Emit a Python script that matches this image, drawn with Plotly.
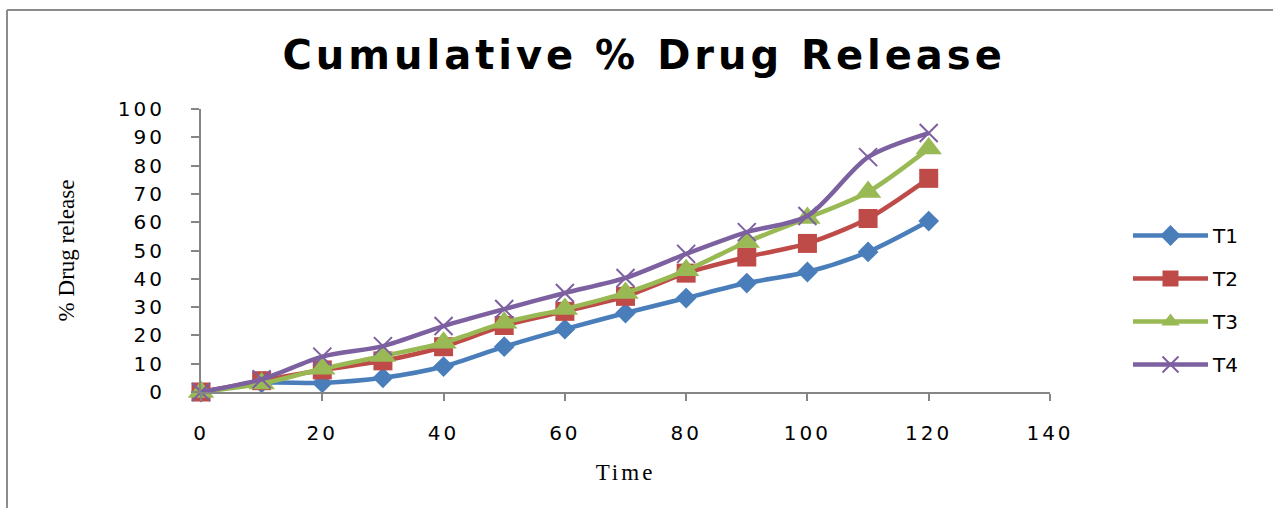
import plotly.graph_objects as go

time = [0, 10, 20, 30, 40, 50, 60, 70, 80, 90, 100, 110, 120]
T1 = [0, 3.2, 3.2, 5, 9, 16, 22.2, 27.9, 33.2, 38.5, 42.4, 49.5, 60.4]
T2 = [0, 4.0, 7.8, 11, 16, 23.5, 28.5, 33.8, 42, 47.7, 52.5, 61.3, 75.5]
T3 = [0, 3.0, 8.2, 12.7, 17.4, 24.5, 29.3, 35, 43, 53, 61.5, 70.7, 86]
T4 = [0, 4.5, 12.5, 16.2, 23.3, 29.3, 35, 40.3, 48.8, 56.5, 62.2, 83, 91.5]
series_names = ["T1", "T2", "T3", "T4"]
x_ticks = [0, 20, 40, 60, 80, 100, 120, 140]
y_ticks = [0, 10, 20, 30, 40, 50, 60, 70, 80, 90, 100]


def spaced(s, px):
    return f'<span style="letter-spacing:{px}px">{s}</span>'


W, H = 1273, 508
L, R, T, B = 201, 223, 109, 116
pw, ph = W - L - R, H - T - B

styles = [
    dict(color="#4A7EBB", symbol="diamond", size=16, lw=0),
    dict(color="#BE4B48", symbol="square", size=19, lw=0),
    dict(color="#98B954", symbol="triangle-up", size=23, lw=0),
    dict(color="#7D60A0", symbol="x-thin", size=18, lw=2),
]

fig = go.Figure()
for name, ys, st in zip(series_names, [T1, T2, T3, T4], styles):
    fig.add_trace(go.Scatter(
        x=time, y=ys, name=name, mode="lines+markers",
        line=dict(color=st["color"], width=4.5, shape="spline", smoothing=0.8),
        marker=dict(symbol=st["symbol"], size=st["size"], color=st["color"],
                    line=dict(color=st["color"], width=st["lw"])),
        legendgroup=name,
        cliponaxis=False,
    ))

axis_col = "#868686"
fig.update_layout(
    width=W, height=H,
    margin=dict(l=L, r=R, t=T, b=B, autoexpand=False),
    paper_bgcolor="white", plot_bgcolor="white",
    title=dict(text=spaced("Cumulative % Drug Release", 4), x=0.506, xanchor="center",
               y=1 - 55 / H, yanchor="middle",
               font=dict(family="DejaVu Sans", size=40, color="black", weight="bold")),
    xaxis=dict(range=[0, 140], tickvals=x_ticks,
               ticktext=[spaced(v, 3) for v in x_ticks],
               showgrid=False, zeroline=False,
               showline=True, linecolor=axis_col, linewidth=2,
               ticks="outside", ticklen=7, tickwidth=2, tickcolor=axis_col,
               ticklabelstandoff=15,
               tickfont=dict(family="DejaVu Sans", size=20, color="black"),
               title=dict(text=spaced("Time", 3), standoff=20,
                          font=dict(family="Liberation Serif", size=23, color="black"))),
    yaxis=dict(range=[0, 100], tickvals=y_ticks,
               ticktext=[spaced(v, 3) for v in y_ticks],
               showgrid=False, zeroline=False,
               showline=True, linecolor=axis_col, linewidth=2,
               ticks="outside", ticklen=8, tickwidth=2, tickcolor=axis_col,
               ticklabelstandoff=22,
               tickfont=dict(family="DejaVu Sans", size=20, color="black"),
               title=dict(text="% Drug release", standoff=37,
                          font=dict(family="Liberation Serif", size=23, color="black"))),
    legend=dict(x=(1128 - L) / pw, xanchor="left", y=1 - (216 - T) / ph, yanchor="top",
                itemwidth=75, tracegroupgap=14,
                font=dict(family="DejaVu Sans", size=20, color="black"),
                bgcolor="rgba(0,0,0,0)"),
    showlegend=True,
)

# outer chart border (left and top edges visible)
fig.add_shape(type="line", xref="paper", yref="paper",
              x0=(7 - L) / pw, x1=(7 - L) / pw, y0=1 + (T - 10) / ph, y1=1 + (T - H - 5) / ph,
              line=dict(color="#8C8C8C", width=2))
fig.add_shape(type="line", xref="paper", yref="paper",
              x0=(7 - L) / pw, x1=(W + 5 - L) / pw, y0=1 + (T - 10) / ph, y1=1 + (T - 10) / ph,
              line=dict(color="#8C8C8C", width=2))

fig.write_html("out.html", config={"displayModeBar": False},
               post_script="document.body.style.margin='0';")
